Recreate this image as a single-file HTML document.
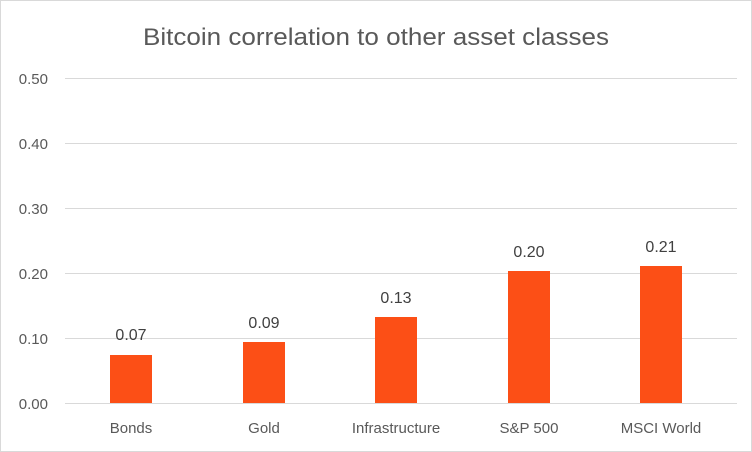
<!DOCTYPE html>
<html><head><style>
body{margin:0;background:#fff}
svg{display:block}
text{font-family:"Liberation Sans",sans-serif}
</style></head><body>
<svg width="752" height="452" xmlns="http://www.w3.org/2000/svg">
<rect x="0.5" y="0.5" width="751" height="451" fill="#fff" stroke="#d9d9d9"/>
<text x="143" y="45" font-size="24" fill="#595959" textLength="466" lengthAdjust="spacingAndGlyphs">Bitcoin correlation to other asset classes</text>
<g stroke="#d9d9d9" stroke-width="1">
<line x1="65" x2="737" y1="78.5" y2="78.5"/>
<line x1="65" x2="737" y1="143.5" y2="143.5"/>
<line x1="65" x2="737" y1="208.5" y2="208.5"/>
<line x1="65" x2="737" y1="273.5" y2="273.5"/>
<line x1="65" x2="737" y1="338.5" y2="338.5"/>
<line x1="65" x2="737" y1="403.5" y2="403.5"/>
</g>
<g font-size="15" fill="#595959" text-anchor="end">
<text x="48" y="84">0.50</text>
<text x="48" y="149">0.40</text>
<text x="48" y="214">0.30</text>
<text x="48" y="279">0.20</text>
<text x="48" y="344">0.10</text>
<text x="48" y="409">0.00</text>
</g>
<g fill="#fc4f16">
<rect x="110" y="355" width="42" height="48"/>
<rect x="243" y="342" width="42" height="61"/>
<rect x="375" y="317" width="42" height="86"/>
<rect x="508" y="271" width="42" height="132"/>
<rect x="640" y="266" width="42" height="137"/>
</g>
<g font-size="16" fill="#404040" text-anchor="middle">
<text x="131" y="340">0.07</text>
<text x="264" y="328">0.09</text>
<text x="396" y="303">0.13</text>
<text x="529" y="257">0.20</text>
<text x="661" y="252">0.21</text>
</g>
<g font-size="15" fill="#595959" text-anchor="middle">
<text x="131" y="433">Bonds</text>
<text x="264" y="433">Gold</text>
<text x="396" y="433">Infrastructure</text>
<text x="529" y="433">S&amp;P 500</text>
<text x="661" y="433">MSCI World</text>
</g>
</svg>
</body></html>
